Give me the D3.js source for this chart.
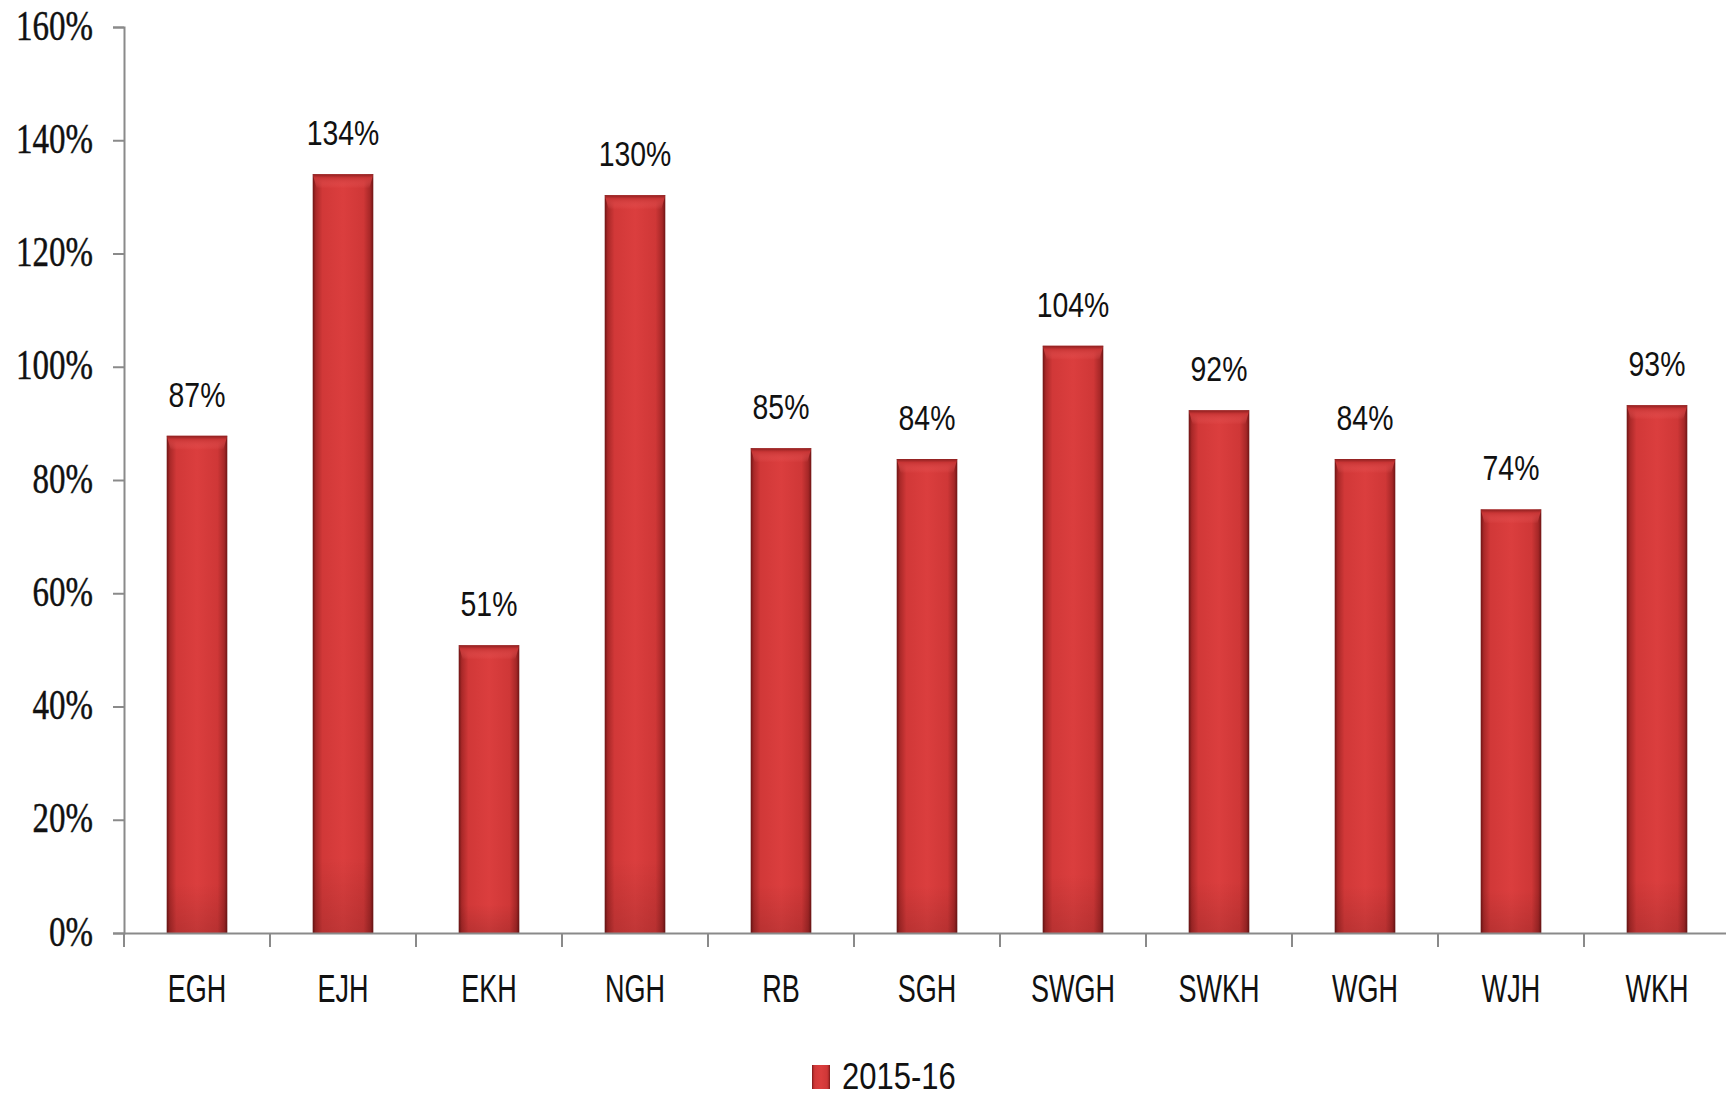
<!DOCTYPE html>
<html>
<head>
<meta charset="utf-8">
<script src="https://cdn.jsdelivr.net/npm/d3@7"></script>
<style>
  html, body { margin: 0; padding: 0; background: #fff; }
  svg { display: block; }
</style>
</head>
<body>
<svg id="chart" width="1726" height="1096"></svg>
<script>
const categories = ["EGH", "EJH", "EKH", "NGH", "RB", "SGH", "SWGH", "SWKH", "WGH", "WJH", "WKH"];
const values = [87.8, 134, 50.8, 130.3, 85.6, 83.7, 103.7, 92.3, 83.7, 74.8, 93.2];
const valueLabels = ["87%", "134%", "51%", "130%", "85%", "84%", "104%", "92%", "84%", "74%", "93%"];
const yTicks = [0, 20, 40, 60, 80, 100, 120, 140, 160];
const seriesName = "2015-16";

const svg = d3.select("#chart");
const m = { left: 124, right: 1730, top: 27, bottom: 933 };
const SANS = "'Liberation Sans', Arial, sans-serif";

const x = d3.scaleBand().domain(categories).range([m.left, m.right])
  .paddingInner(0.585).paddingOuter(0.2925);
const xb = d3.scaleBand().domain(categories).range([m.left, m.right]).padding(0);
const y = d3.scaleLinear().domain([0, 160]).range([m.bottom, m.top]);

const defs = svg.append("defs");
const g1 = defs.append("linearGradient").attr("id", "barH").attr("x1", "0").attr("x2", "1").attr("y1", "0").attr("y2", "0");
[[0, "#6e1414"], [0.05, "#a82828"], [0.16, "#d13838"], [0.5, "#db3e3e"], [0.84, "#cf3737"], [0.95, "#a52727"], [1, "#6e1414"]]
  .forEach(([o, c]) => g1.append("stop").attr("offset", o).attr("stop-color", c));
const g2 = defs.append("linearGradient").attr("id", "barV").attr("x1", "0").attr("x2", "0").attr("y1", "0").attr("y2", "1");
[[0, "#000", 0.0], [0.9, "#000", 0.0], [1, "#000", 0.12]]
  .forEach(([o, c, op]) => g2.append("stop").attr("offset", o).attr("stop-color", c).attr("stop-opacity", op));
const g3 = defs.append("linearGradient").attr("id", "bevel").attr("x1", "0").attr("x2", "0").attr("y1", "0").attr("y2", "1");
[[0, "#8e2020", 1], [0.25, "#c83535", 1], [1, "#f06060", 0.0]]
  .forEach(([o, c, op]) => g3.append("stop").attr("offset", o).attr("stop-color", c).attr("stop-opacity", op));

// Y axis
const yAxis = d3.axisLeft(y).tickValues(yTicks).tickSize(11).tickPadding(20).tickFormat(d => d + "%");
const yg = svg.append("g").attr("transform", `translate(${m.left},0)`).call(yAxis);
yg.select(".domain").attr("stroke", "#8a8a8a").attr("stroke-width", 2);
yg.selectAll(".tick line").attr("stroke", "#8a8a8a").attr("stroke-width", 2);
yg.selectAll(".tick text")
  .attr("font-family", "'Liberation Serif', serif").attr("font-size", 33).attr("fill", "#111")
  .attr("stroke", "#111").attr("stroke-width", 0.35)
  .attr("dy", null)
  .attr("transform", function () {
    const xx = +d3.select(this).attr("x");
    return `translate(${xx},12) scale(1,1.25)`;
  })
  .attr("x", 0);

// Bars
const bars = svg.append("g").selectAll("g").data(categories).join("g");
bars.append("rect")
  .attr("x", d => x(d)).attr("width", x.bandwidth())
  .attr("y", (d, i) => y(values[i])).attr("height", (d, i) => y(0) - y(values[i]))
  .attr("fill", "url(#barH)");
bars.append("rect")
  .attr("x", d => x(d)).attr("width", x.bandwidth())
  .attr("y", (d, i) => y(values[i])).attr("height", (d, i) => y(0) - y(values[i]))
  .attr("fill", "url(#barV)");
bars.append("path")
  .attr("d", (d, i) => {
    const x0 = x(d), x1 = x(d) + x.bandwidth(), t = y(values[i]), b = 14;
    return `M${x0},${t} L${x1},${t} L${x1 - 4},${t + b} L${x0 + 4},${t + b} Z`;
  })
  .attr("fill", "url(#bevel)");

// Data labels
svg.append("g").selectAll("text").data(categories).join("text")
  .attr("transform", (d, i) => `translate(${x(d) + x.bandwidth() / 2},${y(values[i]) - 29}) scale(0.98,1.22)`)
  .attr("text-anchor", "middle")
  .attr("font-family", SANS)
  .attr("font-size", 29).attr("fill", "#111")
  .text((d, i) => valueLabels[i]);

// X axis
const xAxis = d3.axisBottom(xb).tickSize(0).tickFormat(d => d);
const xg = svg.append("g").attr("transform", `translate(0,${m.bottom})`).call(xAxis);
xg.select(".domain").attr("stroke", "#8a8a8a").attr("stroke-width", 2);
xg.selectAll(".tick text")
  .attr("font-family", SANS)
  .attr("font-size", 27).attr("fill", "#111")
  .attr("y", 0).attr("dy", null)
  .attr("transform", "translate(0,69) scale(1,1.42)");
// boundary tick marks
const bounds = categories.map(c => xb(c));
xg.append("g").selectAll("line").data(bounds).join("line")
  .attr("x1", d => d).attr("x2", d => d).attr("y1", 0).attr("y2", 14)
  .attr("stroke", "#8a8a8a").attr("stroke-width", 2);

// Legend
const lg = svg.append("g").attr("transform", "translate(812,1065)");
lg.append("rect").attr("width", 18).attr("height", 24).attr("fill", "url(#barH)");
lg.append("text")
  .attr("transform", "translate(30,24) scale(1,1.22)")
  .attr("font-family", SANS)
  .attr("font-size", 31).attr("fill", "#111")
  .text(seriesName);
</script>
</body>
</html>
